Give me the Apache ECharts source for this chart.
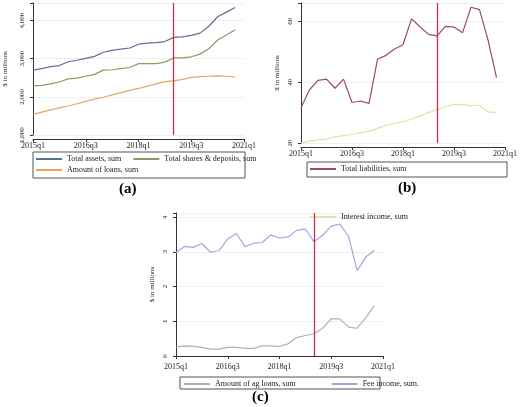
<!DOCTYPE html><html><head><meta charset="utf-8"><script src="https://cdn.jsdelivr.net/npm/echarts@6/dist/echarts.min.js"></script></head><body style="margin:0;background:#fff"><div id="c" style="width:520px;height:407px"></div><script>
const quarterTicks={0:'2015q1',6:'2016q3',12:'2018q1',18:'2019q3',24:'2021q1'};
const totalAssets=[2700,2740,2790,2820,2920,2960,3010,3060,3170,3220,3250,3280,3380,3410,3420,3450,3560,3570,3610,3670,3850,4100,4220,4340];
const sharesDeposits=[2290,2300,2340,2390,2470,2490,2540,2590,2700,2710,2740,2770,2870,2870,2870,2910,3020,3020,3050,3120,3260,3490,3620,3760];
const loans=[1540,1600,1660,1710,1760,1820,1880,1940,1990,2050,2110,2170,2220,2280,2340,2400,2420,2460,2510,2530,2540,2550,2540,2520];
const liabilities=[31.6,37.5,40.6,41,38,41,33.3,33.8,33,47.5,48.8,50.9,52.3,60.8,58.2,55.7,55.2,58.3,58.1,56.2,64.6,63.8,53.9,41.5];
const interest=[20,20.6,21,21.3,22,22.4,22.8,23.3,23.8,24.8,25.8,26.5,27,27.8,28.9,30,30.9,32,32.6,32.6,32.3,32.4,30.2,30];
const agLoans=[0.26,0.29,0.28,0.25,0.2,0.2,0.25,0.25,0.22,0.22,0.29,0.29,0.28,0.35,0.53,0.59,0.64,0.8,1.07,1.07,0.83,0.8,1.1,1.45];
const feeIncome=[2.98,3.16,3.13,3.24,2.99,3.04,3.37,3.53,3.15,3.25,3.27,3.49,3.40,3.43,3.62,3.66,3.29,3.48,3.74,3.8,3.45,2.46,2.85,3.04];
const eventIdx=16;
const F='Liberation Serif';
const pts=a=>a.map((v,i)=>[i,v]);
const grids=[{left:33,top:0,width:211,height:135},{left:301,top:0,width:210,height:143},{left:176,top:213,width:207,height:143}];
function xa(i){return{type:'value',gridIndex:i,min:0,max:24,interval:6,offset:4,axisLine:{show:true,lineStyle:{color:'#333'}},axisTick:{show:true,length:3,lineStyle:{color:'#333'}},splitLine:{show:false},axisLabel:{fontFamily:F,fontSize:8,color:'#222',formatter:v=>quarterTicks[v]||'',margin:3}};}
function ya(i,min,max,interval,fmt){return{type:'value',gridIndex:i,min,max,interval,offset:4,name:'$ in millions',nameLocation:'middle',nameGap:i==0?20:16,nameTextStyle:{fontFamily:F,fontSize:7,color:'#222'},axisLine:{show:true,lineStyle:{color:'#333'}},axisTick:{show:true,length:3},splitLine:{show:true,lineStyle:{color:'#eef0f2'}},axisLabel:{fontFamily:F,fontSize:7,color:'#222',rotate:90,margin:3,formatter:v=>(Math.abs(v/interval-Math.round(v/interval))<1e-6?fmt(v):'')},showMaxLabel:false};}
const ml={silent:true,symbol:'none',label:{show:false},lineStyle:{color:'#c8304a',type:'solid',width:1.3},data:[{xAxis:eventIdx}]};
function s(name,data,i,color,mark){return{name,type:'line',data:pts(data),xAxisIndex:i,yAxisIndex:i,symbol:'none',lineStyle:{color,width:1.2},itemStyle:{color},markLine:mark?ml:undefined};}
function lg(names,left,top,gap){return{data:names,left,top,orient:'horizontal',padding:0,itemWidth:26,itemHeight:2,itemGap:gap,icon:'rect',textStyle:{fontFamily:F,fontSize:8,color:'#222'},selectedMode:false};}
const box=(x,y,w,h)=>({type:'rect',shape:{x,y,width:w,height:h},style:{fill:'none',stroke:'#555',lineWidth:1},silent:true});
const chart=echarts.init(document.getElementById('c'));
chart.setOption({animation:false,backgroundColor:'#fff',grid:grids,
xAxis:[xa(0),xa(1),xa(2)],
yAxis:[ya(0,1000,4460,1000,v=>v.toLocaleString('en-US')),ya(1,20,66,20,v=>v),ya(2,0,4.12,1,v=>v)],
legend:[lg(['Total assets, sum','Total shares & deposits, sum'],36,155,12),
lg(['Amount of loans, sum'],36,166,10),
lg(['Total liabilities, sum','Interest income, sum'],310,165,40),
lg(['Amount of ag loans, sum','Fee income, sum.'],184,380,36)],
series:[s('Total assets, sum',totalAssets,0,'#5a7196',true),s('Total shares & deposits, sum',sharesDeposits,0,'#8d9a64'),s('Amount of loans, sum',loans,0,'#e9a45e'),
s('Total liabilities, sum',liabilities,1,'#9a4d5e',true),s('Interest income, sum',interest,1,'#e6e0ab'),
s('Amount of ag loans, sum',agLoans,2,'#9fb9aa',true),s('Fee income, sum.',feeIncome,2,'#a9a3e6')],
graphic:[box(33,152,212,26),box(307,162,200,15),box(180,377,200,12),
{type:'text',left:119,top:182,style:{text:'(a)',font:'bold 15px "Liberation Serif"',fill:'#000'}},
{type:'text',left:398,top:181,style:{text:'(b)',font:'bold 15px "Liberation Serif"',fill:'#000'}},
{type:'text',left:252,top:390,style:{text:'(c)',font:'bold 15px "Liberation Serif"',fill:'#000'}}]
});
</script></body></html>
